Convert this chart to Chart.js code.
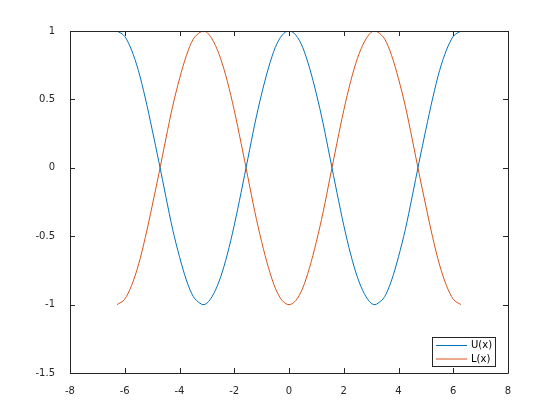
<!DOCTYPE html>
<html>
<head>
<meta charset="utf-8">
<script src="https://cdn.jsdelivr.net/npm/chart.js@4"></script>
<style>
  html, body { margin: 0; padding: 0; background: #fff; }
  #wrap { width: 560px; height: 420px; }
</style>
</head>
<body>
<div id="wrap"><canvas id="chart" width="560" height="420"></canvas></div>
<script>
// values
const xValues = [-6.28, -6.0, -5.75, -5.5, -5.25, -5.0, -4.75, -4.5, -4.25, -4.0, -3.75, -3.5, -3.25, -3.14,
    -3.0, -2.75, -2.5, -2.25, -2.0, -1.75, -1.5, -1.25, -1.0, -0.75, -0.5, -0.25, 0,
    0.25, 0.5, 0.75, 1.0, 1.25, 1.5, 1.75, 2.0, 2.25, 2.5, 2.75, 3.0, 3.14,
    3.25, 3.5, 3.75, 4.0, 4.25, 4.5, 4.75, 5.0, 5.25, 5.5, 5.75, 6.0, 6.28];
const uValues = [1.00, 0.96, 0.86, 0.71, 0.51, 0.28, 0.04, -0.21, -0.45, -0.65, -0.82, -0.94, -0.99, -1.00,
    -0.99, -0.92, -0.80, -0.63, -0.42, -0.18, 0.07, 0.32, 0.54, 0.73, 0.88, 0.97, 1.00,
    0.97, 0.88, 0.73, 0.54, 0.32, 0.07, -0.18, -0.42, -0.63, -0.80, -0.92, -0.99, -1.00,
    -0.99, -0.94, -0.82, -0.65, -0.45, -0.21, 0.04, 0.28, 0.51, 0.71, 0.86, 0.96, 1.00];
const lValues = [-1.00, -0.96, -0.86, -0.71, -0.51, -0.28, -0.04, 0.21, 0.45, 0.65, 0.82, 0.94, 0.99, 1.00,
    0.99, 0.92, 0.80, 0.63, 0.42, 0.18, -0.07, -0.32, -0.54, -0.73, -0.88, -0.97, -1.00,
    -0.97, -0.88, -0.73, -0.54, -0.32, -0.07, 0.18, 0.42, 0.63, 0.80, 0.92, 0.99, 1.00,
    0.99, 0.94, 0.82, 0.65, 0.45, 0.21, -0.04, -0.28, -0.51, -0.71, -0.86, -0.96, -1.00];
const seriesNames = ["U(x)", "L(x)"];
const seriesColors = ["#0072BD", "#D95319"];
const xTicks = [-8, -6, -4, -2, 0, 2, 4, 6, 8];
const yTicks = [-1.5, -1, -0.5, 0, 0.5, 1];

const axisColor = "#262626";
const font = { family: "DejaVu Sans", size: 10 };

function points(ys) {
    return xValues.map((x, i) => ({ x: x, y: ys[i] }));
}

// box round the plot, inward ticks on all four sides, legend in the lower right
const frame = {
    id: "frame",
    afterDraw(chart) {
        const ctx = chart.ctx;
        const a = chart.chartArea;
        const xs = chart.scales.x;
        const ys = chart.scales.y;
        ctx.save();
        ctx.strokeStyle = axisColor;
        ctx.lineWidth = 1;
        ctx.beginPath();
        ctx.rect(Math.round(a.left) + 0.5, Math.round(a.top) + 0.5,
            Math.round(a.right - a.left), Math.round(a.bottom - a.top));
        xTicks.forEach((t) => {
            const px = Math.round(xs.getPixelForValue(t)) + 0.5;
            ctx.moveTo(px, a.bottom); ctx.lineTo(px, a.bottom - 5);
            ctx.moveTo(px, a.top); ctx.lineTo(px, a.top + 5);
        });
        yTicks.forEach((t) => {
            const py = Math.round(ys.getPixelForValue(t)) + 0.5;
            ctx.moveTo(a.left, py); ctx.lineTo(a.left + 5, py);
            ctx.moveTo(a.right, py); ctx.lineTo(a.right - 5, py);
        });
        ctx.stroke();

        // legend
        const bx = 432.5, by = 337.5, bw = 63, bh = 29;
        ctx.fillStyle = "#fff";
        ctx.fillRect(bx, by, bw, bh);
        ctx.strokeRect(bx, by, bw, bh);
        ctx.font = "10px 'DejaVu Sans'";
        ctx.textBaseline = "middle";
        seriesNames.forEach((name, i) => {
            const y = 345 + i * 13.5;
            ctx.strokeStyle = seriesColors[i];
            ctx.beginPath();
            ctx.moveTo(436, y + 0.5);
            ctx.lineTo(467, y + 0.5);
            ctx.stroke();
            ctx.fillStyle = "#000";
            ctx.fillText(name, 471, y + 0.5);
        });
        ctx.restore();
    }
};

new Chart(document.getElementById("chart"), {
    type: "line",
    data: {
        datasets: [
            { label: seriesNames[0], data: points(uValues), borderColor: seriesColors[0] },
            { label: seriesNames[1], data: points(lValues), borderColor: seriesColors[1] }
        ]
    },
    options: {
        responsive: false,
        animation: false,
        layout: { padding: { top: 31, right: 52, left: 0, bottom: 0 } },
        elements: {
            point: { radius: 0 },
            line: { borderWidth: 1, tension: 0.4, cubicInterpolationMode: "monotone" }
        },
        plugins: { legend: { display: false }, tooltip: { enabled: false } },
        scales: {
            x: {
                type: "linear",
                min: -8, max: 8,
                afterBuildTicks: (s) => { s.ticks = xTicks.map((v) => ({ value: v })); },
                afterFit: (s) => { s.height = 47; },
                grid: { display: false },
                border: { display: false },
                ticks: { font: font, color: axisColor, padding: 4, maxRotation: 0, callback: (v) => String(v) }
            },
            y: {
                type: "linear",
                min: -1.5, max: 1,
                afterBuildTicks: (s) => { s.ticks = yTicks.map((v) => ({ value: v })); },
                afterFit: (s) => { s.width = 70; },
                grid: { display: false },
                border: { display: false },
                ticks: { font: font, color: axisColor, padding: 7, callback: (v) => String(v) }
            }
        }
    },
    plugins: [frame]
});
</script>
</body>
</html>
